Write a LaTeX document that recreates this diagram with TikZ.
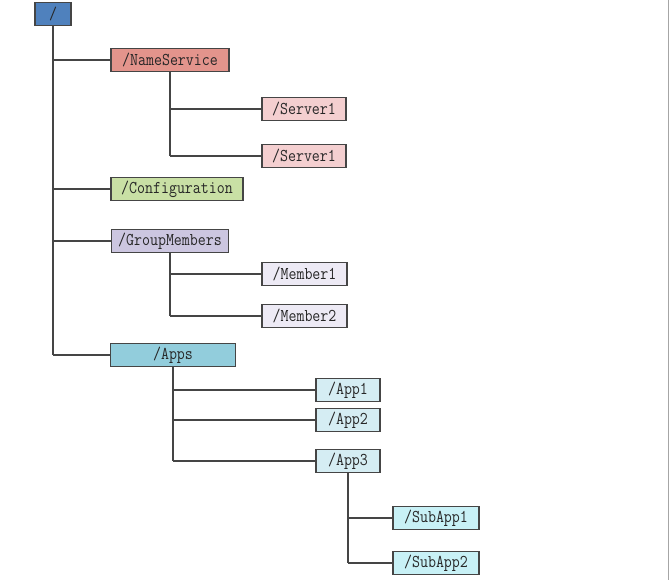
\documentclass[tikz,border=0pt]{standalone}
\usepackage{fontspec}
\newfontfamily\boxfont[FakeStretch=0.86]{Latin Modern Mono}
\usetikzlibrary{calc}
\definecolor{cRoot}{HTML}{4F81BD}
\definecolor{cNS}{HTML}{E3948C}
\definecolor{cSrv}{HTML}{F4CFD0}
\definecolor{cCfg}{HTML}{C9E0A5}
\definecolor{cGM}{HTML}{CCC6E0}
\definecolor{cMem}{HTML}{EDEAF5}
\definecolor{cApps}{HTML}{92CDDC}
\definecolor{cApp}{HTML}{D5EDF3}
\definecolor{cSub}{HTML}{C8F1F6}
\definecolor{cLine}{HTML}{454545}
\begin{document}
\begin{tikzpicture}[x=1pt,y=-1pt,
  box/.style={draw=cLine, line width=1.2pt, inner sep=0pt, minimum height=23pt,
    font=\boxfont\fontsize{18}{19}\selectfont, text=black!85},
  conn/.style={draw=cLine, line width=1.5pt}]
\useasboundingbox (0,0) rectangle (669,580);
\draw[gray!70, line width=1pt] (668,0) -- (668,580);
% nodes
\node[box, fill=cRoot, minimum width=36pt] (root) at (53,14) {/};
\node[box, fill=cNS, minimum width=118pt] (ns) at (170,60) {/NameService};
\node[box, fill=cSrv, minimum width=84pt] (s1) at (304,109) {/Server1};
\node[box, fill=cSrv, minimum width=84pt] (s2) at (304,156) {/Server1};
\node[box, fill=cCfg, minimum width=132pt] (cfg) at (177,189) {/Configuration};
\node[box, fill=cGM, minimum width=117pt] (gm) at (170,241) {/GroupMembers};
\node[box, fill=cMem, minimum width=85pt] (m1) at (304.5,274) {/Member1};
\node[box, fill=cMem, minimum width=85pt] (m2) at (304.5,316) {/Member2};
\node[box, fill=cApps, minimum width=125pt] (apps) at (173,355) {/Apps};
\node[box, fill=cApp, minimum width=64pt] (a1) at (348,390) {/App1};
\node[box, fill=cApp, minimum width=64pt] (a2) at (348,420) {/App2};
\node[box, fill=cApp, minimum width=64pt] (a3) at (348,461) {/App3};
\node[box, fill=cSub, minimum width=86pt] (sa1) at (436,518) {/SubApp1};
\node[box, fill=cSub, minimum width=86pt] (sa2) at (436,563) {/SubApp2};
% connectors
\draw[conn] (root.south) -- (root.south |- apps.west);
\foreach \c in {ns,cfg,gm,apps} \draw[conn] (root.south |- \c.west) -- (\c.west);
\draw[conn] (ns.south) -- (ns.south |- s2.west);
\foreach \c in {s1,s2} \draw[conn] (ns.south |- \c.west) -- (\c.west);
\draw[conn] (gm.south) -- (gm.south |- m2.west);
\foreach \c in {m1,m2} \draw[conn] (gm.south |- \c.west) -- (\c.west);
\draw[conn] (apps.south) -- (apps.south |- a3.west);
\foreach \c in {a1,a2,a3} \draw[conn] (apps.south |- \c.west) -- (\c.west);
\draw[conn] (a3.south) -- (a3.south |- sa2.west);
\foreach \c in {sa1,sa2} \draw[conn] (a3.south |- \c.west) -- (\c.west);
\end{tikzpicture}
\end{document}
